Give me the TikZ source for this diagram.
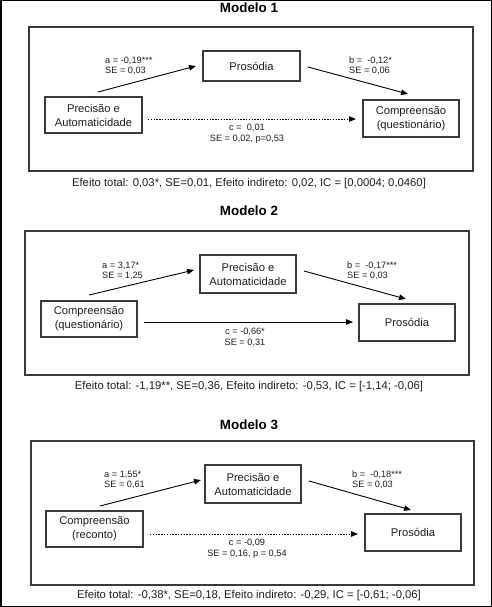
\documentclass[tikz,border=0pt]{standalone}
\usepackage{fontspec}
\setmainfont{Liberation Sans}
\usetikzlibrary{arrows.meta,calc}
\definecolor{boxline}{HTML}{3A3A3A}
\definecolor{txt}{HTML}{1E1E1E}
\tikzset{
  panel/.style={draw=boxline, line width=1.3pt, inner sep=0pt},
  varbox/.style={draw=boxline, line width=1.2pt, inner sep=0pt, align=center,
    font=\fontsize{11.2}{14}\selectfont, text=txt},
  coef/.style={inner sep=0pt, align=left, anchor=west, font=\fontsize{9.2}{10}\selectfont, text=txt},
  coefc/.style={inner sep=0pt, align=center, font=\fontsize{9.2}{11}\selectfont, text=txt},
  title/.style={inner sep=0pt, font=\fontsize{13.4}{15}\selectfont\bfseries, text=black},
  caption/.style={inner sep=0pt, font=\fontsize{11.3}{13}\selectfont, text=txt},
  path/.style={draw=black, line width=0.9pt, -{Triangle[length=7pt,width=5.5pt]}},
  dotpath/.style={path, dash pattern=on 1.4pt off 1.4pt}
}
\begin{document}
\begin{tikzpicture}[x=1pt,y=-1pt]
\useasboundingbox (0,0) rectangle (492,607);
\draw[black, line width=1.5pt] (0.75,0.75) rectangle (491.25,606.25);

% ---------- Modelo 1 ----------
\node[title] (t1) at (249,8) {Modelo 1};
\node[panel, minimum width=444pt, minimum height=144pt] (pan1) at (251,99) {};
\node[varbox, minimum width=97pt, minimum height=30pt] (P1) at (251.5,66) {Prosódia};
\node[varbox, minimum width=97pt, minimum height=36pt] (A1) at (93.5,115) {Precisão e\\Automaticidade};
\node[varbox, minimum width=96pt, minimum height=37pt] (C1) at (411,118.5) {Compreensão\\(questionário)};
\coordinate (a1s) at (98,92);  \coordinate (a1e) at (196,66);
\coordinate (b1s) at (308,67); \coordinate (b1e) at (408,94);
\coordinate (c1s) at (148,119); \coordinate (c1e) at (356,119);
\draw[path] (a1s) -- (a1e);
\draw[path] (b1s) -- (b1e);
\draw[dotpath] (c1s) -- (c1e);
\node[coef] (la1) at (105,66) {a = -0,19***\\SE = 0,03};
\node[coef] (lb1) at (349,66) {b =\ \ -0,12*\\SE = 0,06};
\node[coefc] (lc1) at (247,133.5) {c =\ \ 0,01\\SE = 0,02, p=0,53};
\node[caption] (cap1) at (249,184) {Efeito total: 0,03*, SE=0,01, Efeito indireto: 0,02, IC = [0,0004; 0,0460]};

% ---------- Modelo 2 ----------
\node[title] (t2) at (249,211) {Modelo 2};
\node[panel, minimum width=444pt, minimum height=144pt] (pan2) at (247,303) {};
\node[varbox, minimum width=96pt, minimum height=38pt] (A2) at (248,274) {Precisão e\\Automaticidade};
\node[varbox, minimum width=96pt, minimum height=36pt] (C2) at (89,319) {Compreensão\\(questionário)};
\node[varbox, minimum width=96pt, minimum height=37pt] (P2) at (407,322.5) {Prosódia};
\coordinate (a2s) at (89,295);  \coordinate (a2e) at (194,270);
\coordinate (b2s) at (304,271); \coordinate (b2e) at (406,299);
\coordinate (c2s) at (144,322); \coordinate (c2e) at (353,322);
\draw[path] (a2s) -- (a2e);
\draw[path] (b2s) -- (b2e);
\draw[path] (c2s) -- (c2e);
\node[coef] (la2) at (102,271) {a = 3,17*\\SE = 1,25};
\node[coef] (lb2) at (347,271) {b =\ \ -0,17***\\SE = 0,03};
\node[coefc] (lc2) at (245,337) {c = -0,66*\\SE = 0,31};
\node[caption] (cap2) at (249,387) {Efeito total: -1,19**, SE=0,36, Efeito indireto: -0,53, IC = [-1,14; -0,06]};

% ---------- Modelo 3 ----------
\node[title] (t3) at (249,425) {Modelo 3};
\node[panel, minimum width=443pt, minimum height=144pt] (pan3) at (252.5,513) {};
\node[varbox, minimum width=96pt, minimum height=38pt] (A3) at (253,484) {Precisão e\\Automaticidade};
\node[varbox, minimum width=97pt, minimum height=36pt] (C3) at (94.5,529) {Compreensão\\(reconto)};
\node[varbox, minimum width=96pt, minimum height=37pt] (P3) at (413,532.5) {Prosódia};
\coordinate (a3s) at (100,506);  \coordinate (a3e) at (201,480);
\coordinate (b3s) at (309,481); \coordinate (b3e) at (411,510);
\coordinate (c3s) at (150,534); \coordinate (c3e) at (358,534);
\draw[path] (a3s) -- (a3e);
\draw[path] (b3s) -- (b3e);
\draw[dotpath] (c3s) -- (c3e);
\node[coef] (la3) at (104,480) {a = 1,55*\\SE = 0,61};
\node[coef] (lb3) at (352,480) {b =\ \ -0,18***\\SE = 0,03};
\node[coefc] (lc3) at (247,548.5) {c = -0,09\\SE = 0,16, p = 0,54};
\node[caption] (cap3) at (249,596) {Efeito total: -0,38*, SE=0,18, Efeito indireto: -0,29, IC = [-0,61; -0,06]};
\end{tikzpicture}
\end{document}
